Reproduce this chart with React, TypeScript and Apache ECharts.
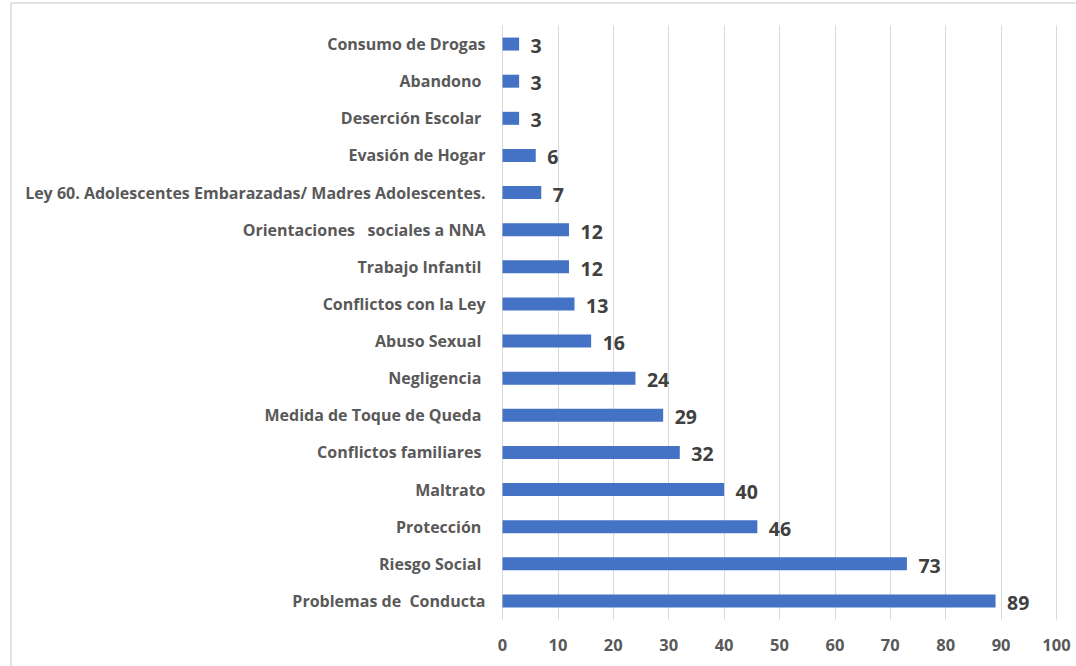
import React, { useEffect, useRef } from "react";
import * as echarts from "echarts";

const categories = [
  "Problemas de  Conducta",
  "Riesgo Social ",
  "Protección ",
  "Maltrato",
  "Conflictos familiares ",
  "Medida de Toque de Queda ",
  "Negligencia ",
  "Abuso Sexual ",
  "Conflictos con la Ley",
  "Trabajo Infantil ",
  "Orientaciones   sociales a NNA",
  "Ley 60. Adolescentes Embarazadas/ Madres Adolescentes.",
  "Evasión de Hogar",
  "Deserción Escolar ",
  "Abandono ",
  "Consumo de Drogas",
];
const values = [89, 73, 46, 40, 32, 29, 24, 16, 13, 12, 12, 7, 6, 3, 3, 3];

const FONT = "'Open Sans', Lato, sans-serif";

export default function App() {
  const ref = useRef<HTMLDivElement>(null);
  useEffect(() => {
    if (!ref.current) return;
    const chart = echarts.init(ref.current, null, { renderer: "svg" });
    chart.setOption({
      animation: false,
      backgroundColor: "#ffffff",
      graphic: [
        {
          type: "rect",
          shape: { x: 11, y: 3, width: 1100, height: 700 },
          style: { fill: "none", stroke: "#d9d9d9", lineWidth: 1.5 },
          silent: true,
        },
      ],
      grid: { left: 502.5, right: 19.5, top: 25.5, bottom: 666 - 619.5, containLabel: false },
      xAxis: {
        type: "value",
        min: 0,
        max: 100,
        interval: 10,
        axisLine: { show: false },
        axisTick: { show: false },
        splitLine: { show: true, lineStyle: { color: "#d9d9d9", width: 1 } },
        axisLabel: {
          color: "#595959",
          fontSize: 16.5,
          fontWeight: "bold",
          fontFamily: FONT,
          margin: 16.5,
        },
      },
      yAxis: {
        type: "category",
        data: categories,
        axisLine: { show: true, lineStyle: { color: "#d9d9d9" } },
        axisTick: { show: false },
        axisLabel: {
          color: "#595959",
          fontSize: 16,
          fontWeight: "bold",
          fontFamily: FONT,
          margin: 17,
        },
      },
      series: [
        {
          type: "bar",
          data: values,
          barWidth: 13,
          itemStyle: { color: "#4472C4" },
          label: {
            show: true,
            position: "right",
            distance: 11.5,
            color: "#404040",
            fontSize: 19.5,
            fontWeight: "bold",
            fontFamily: FONT,
            offset: [0, 1.5],
          },
        },
      ],
    });
    return () => chart.dispose();
  }, []);
  return (
    <div
      ref={ref}
      style={{ position: "absolute", left: 0, top: 0, width: 1076, height: 666 }}
    />
  );
}
